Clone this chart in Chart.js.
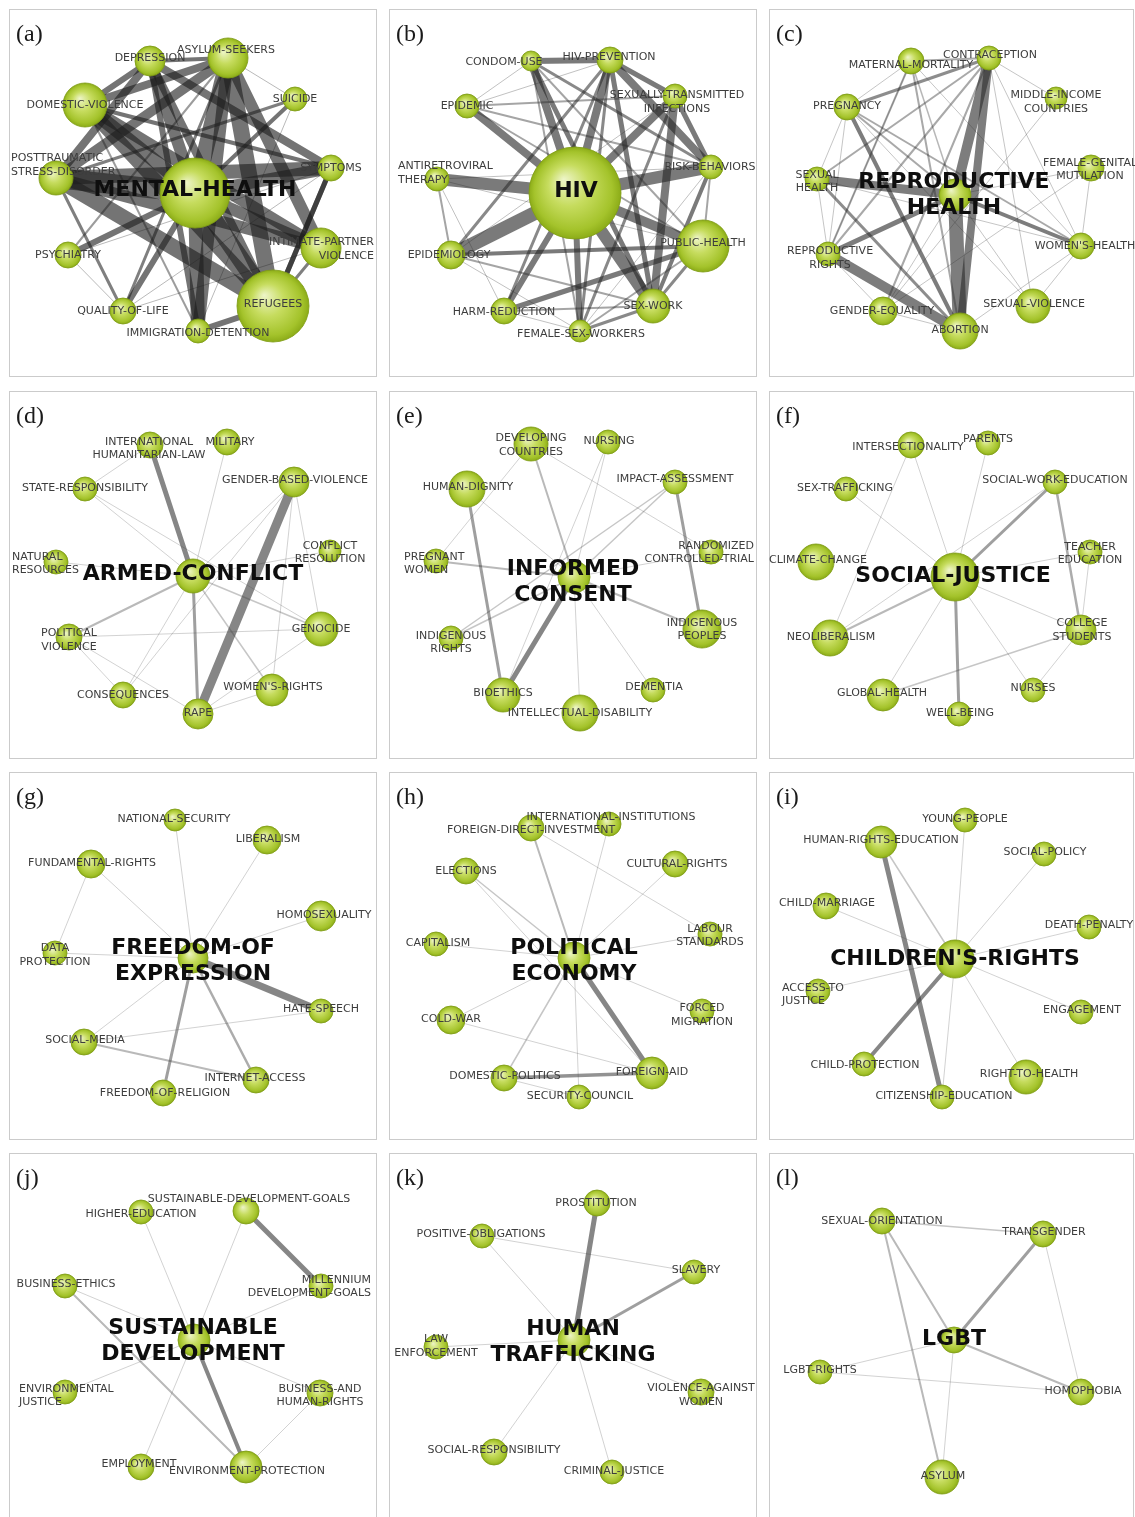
<!DOCTYPE html>
<html>
<head>
<meta charset="utf-8">
<script src="https://cdn.jsdelivr.net/npm/chart.js@4.4.1/dist/chart.umd.min.js"></script>
<style>
  html, body { margin: 0; padding: 0; background: #fff; }
  body { width: 1135px; height: 1517px; overflow: hidden; position: relative; }
  .panel { position: absolute; }
  .frame { position: absolute; left: 1px; top: 1px; box-sizing: border-box; border: 1px solid #cbcbcb; }
  .panel canvas { position: absolute; left: 0; top: 0; }
</style>
</head>
<body>
<script>
// ---- data: terms, layout coordinates (x, y), node weights, links [from, to, strength] ----
const A_TERMS = ['MENTAL-HEALTH', 'DEPRESSION', 'ASYLUM-SEEKERS', 'DOMESTIC-VIOLENCE', 'SUICIDE', 'POSTTRAUMATIC\nSTRESS-DISORDER', 'SYMPTOMS', 'INTIMATE-PARTNER\nVIOLENCE', 'PSYCHIATRY', 'QUALITY-OF-LIFE', 'IMMIGRATION-DETENTION', 'REFUGEES'];
const A_X = [187, 142, 220, 77, 287, 48, 323, 313, 60, 115, 190, 265];
const A_Y = [185, 53, 50, 97, 91, 170, 160, 240, 247, 303, 323, 298];
const A_SIZE = [35, 15, 20, 22, 12, 17, 13, 20, 13, 13, 12, 36];
const A_LINKS = [[0,11,18],[0,2,16],[0,5,20],[0,3,14],[0,1,12],[0,6,12],[0,7,12],[0,10,14],[0,9,6],[0,8,6],[0,4,4],
  [5,11,16],[5,6,14],[5,7,12],[3,7,12],[3,1,6],[3,2,8],[2,11,16],[2,10,12],[2,5,10],[1,2,4],[1,6,8],[1,11,8],[1,5,8],
  [1,10,6],[11,10,6],[11,6,5],[5,9,3],[8,9,1],[9,7,1],[4,5,3],[4,2,1],[2,7,12],[3,11,14],[3,6,4],[7,11,3],[6,11,5],
  [8,6,1],[9,2,3],[8,2,2],[9,6,1],[3,10,2],[4,10,1]];

const B_TERMS = ['HIV', 'CONDOM-USE', 'HIV-PREVENTION', 'EPIDEMIC', 'SEXUALLY-TRANSMITTED\nINFECTIONS', 'ANTIRETROVIRAL\nTHERAPY', 'RISK-BEHAVIORS', 'PUBLIC-HEALTH', 'EPIDEMIOLOGY', 'HARM-REDUCTION', 'SEX-WORK', 'FEMALE-SEX-WORKERS'];
const B_X = [187, 143, 222, 79, 287, 49, 323, 315, 63, 116, 265, 192];
const B_Y = [185, 53, 52, 98, 88, 171, 159, 238, 247, 303, 298, 323];
const B_SIZE = [46, 10, 13, 12, 12, 12, 12, 26, 14, 13, 17, 11];
const B_LINKS = [[0,5,12],[0,8,14],[0,7,10],[0,6,12],[0,10,12],[0,2,8],[0,1,8],[0,3,8],[0,4,8],[0,9,6],[0,11,6],
  [1,2,6],[1,10,5],[1,6,3],[2,4,5],[2,6,8],[2,10,5],[2,11,3],[2,8,3],[2,9,3],[4,10,8],[4,6,5],[4,3,2],[4,11,3],[3,7,2],
  [3,6,2],[8,7,4],[8,10,2],[9,7,5],[9,10,2],[10,7,3],[10,11,3],[6,10,4],[6,7,2],[5,8,2],[5,6,1],[5,7,1],[8,11,1],[9,11,1],
  [1,3,1],[1,11,2],[3,2,1],[4,8,1],[6,11,1],[7,11,2],[5,9,1],[1,7,2]];

const C_TERMS = ['REPRODUCTIVE\nHEALTH', 'MATERNAL-MORTALITY', 'CONTRACEPTION', 'PREGNANCY', 'MIDDLE-INCOME\nCOUNTRIES', 'SEXUAL\nHEALTH', 'FEMALE-GENITAL\nMUTILATION', "WOMEN'S-HEALTH", 'REPRODUCTIVE\nRIGHTS', 'GENDER-EQUALITY', 'SEXUAL-VIOLENCE', 'ABORTION'];
const C_X = [187, 143, 221, 79, 288, 49, 323, 313, 60, 115, 265, 192];
const C_Y = [187, 53, 50, 99, 90, 171, 160, 238, 246, 303, 298, 323];
const C_SIZE = [16, 13, 12, 13, 11, 12, 13, 13, 12, 14, 17, 18];
const C_LINKS = [[0,11,14],[0,2,10],[2,11,8],[5,0,9],[8,11,10],[3,11,4],[0,7,4],[0,8,5],[3,2,3],[1,2,2],[5,11,3],[5,2,2],
  [3,7,2],[8,2,2],[8,1,2],[9,6,1],[9,2,2],[1,11,2],[1,7,1],[3,0,2],[3,5,1],[3,8,1],[5,8,1],[1,0,1.5],[2,7,1],[2,4,1],
  [4,9,1],[0,10,1],[0,6,1],[7,11,1],[7,6,1],[7,10,1],[3,10,1],[5,7,1],[8,9,1],[9,11,1],[0,9,1],[1,8,1],[3,1,1],[2,10,1]];

const D_TERMS = ['ARMED-CONFLICT', 'INTERNATIONAL\nHUMANITARIAN-LAW', 'MILITARY', 'STATE-RESPONSIBILITY', 'GENDER-BASED-VIOLENCE', 'NATURAL\nRESOURCES', 'CONFLICT\nRESOLUTION', 'POLITICAL\nVIOLENCE', 'GENOCIDE', 'CONSEQUENCES', "WOMEN'S-RIGHTS", 'RAPE'];
const D_X = [185, 142, 219, 77, 286, 48, 322, 61, 313, 115, 264, 190];
const D_Y = [186, 55, 52, 99, 92, 172, 161, 247, 239, 305, 300, 324];
const D_SIZE = [17, 13, 13, 12, 15, 12, 11, 13, 17, 13, 16, 15];
const D_LINKS = [[4,11,9],[0,1,5],[0,11,3],[0,3,1],[0,2,1],[0,4,1],[0,5,1],[0,6,1],[0,7,2],[0,8,1.5],[0,9,1],[0,10,1.5],
  [3,8,1],[1,3,1],[7,8,1],[7,11,1],[7,9,1],[11,8,1],[11,10,1],[4,9,1],[4,8,1],[4,10,1]];

const E_TERMS = ['INFORMED\nCONSENT', 'DEVELOPING\nCOUNTRIES', 'NURSING', 'HUMAN-DIGNITY', 'IMPACT-ASSESSMENT', 'PREGNANT\nWOMEN', 'RANDOMIZED\nCONTROLLED-TRIAL', 'INDIGENOUS\nPEOPLES', 'INDIGENOUS\nRIGHTS', 'BIOETHICS', 'DEMENTIA', 'INTELLECTUAL-DISABILITY'];
const E_X = [186, 143, 220, 79, 287, 48, 323, 314, 63, 115, 265, 192];
const E_Y = [187, 54, 52, 99, 92, 171, 162, 239, 248, 305, 300, 323];
const E_SIZE = [16, 17, 12, 18, 12, 12, 12, 19, 12, 17, 12, 18];
const E_LINKS = [[0,9,5],[3,9,3],[4,7,3],[0,7,2],[0,5,2],[0,1,2],[0,4,1.5],[0,3,1],[0,2,1],[0,6,1],[0,10,1],[0,11,1],
  [0,8,1.5],[8,4,1.5],[1,6,1],[1,5,1],[2,9,1]];

const F_TERMS = ['SOCIAL-JUSTICE', 'INTERSECTIONALITY', 'PARENTS', 'SEX-TRAFFICKING', 'SOCIAL-WORK-EDUCATION', 'CLIMATE-CHANGE', 'TEACHER\nEDUCATION', 'NEOLIBERALISM', 'COLLEGE\nSTUDENTS', 'GLOBAL-HEALTH', 'NURSES', 'WELL-BEING'];
const F_X = [187, 143, 220, 78, 287, 48, 322, 62, 313, 115, 265, 191];
const F_Y = [187, 55, 53, 99, 92, 172, 162, 248, 240, 305, 300, 324];
const F_SIZE = [24, 13, 12, 12, 12, 18, 12, 18, 15, 16, 12, 12];
const F_LINKS = [[0,11,3],[0,4,3],[4,8,2.5],[0,7,2],[9,8,1.5],[0,1,1],[0,2,1],[0,3,1],[0,6,1],[0,8,1],[0,9,1],[0,10,1],
  [1,7,1],[6,8,1],[8,10,1],[4,7,1]];

const G_TERMS = ['FREEDOM-OF\nEXPRESSION', 'NATIONAL-SECURITY', 'LIBERALISM', 'FUNDAMENTAL-RIGHTS', 'HOMOSEXUALITY', 'DATA\nPROTECTION', 'HATE-SPEECH', 'SOCIAL-MEDIA', 'INTERNET-ACCESS', 'FREEDOM-OF-RELIGION'];
const G_X = [185, 167, 259, 83, 313, 47, 313, 76, 248, 155];
const G_Y = [187, 49, 69, 93, 145, 182, 240, 271, 309, 322];
const G_SIZE = [15, 11, 14, 14, 15, 12, 12, 13, 13, 13];
const G_LINKS = [[0,6,7],[0,9,3],[0,8,2.5],[7,8,2],[7,6,1],[0,7,1],[0,5,1],[0,3,1],[0,1,1],[0,2,1],[0,4,1],[3,5,1]];

const H_TERMS = ['POLITICAL\nECONOMY', 'FOREIGN-DIRECT-INVESTMENT', 'INTERNATIONAL-INSTITUTIONS', 'ELECTIONS', 'CULTURAL-RIGHTS', 'CAPITALISM', 'LABOUR\nSTANDARDS', 'COLD-WAR', 'FORCED\nMIGRATION', 'FOREIGN-AID', 'DOMESTIC-POLITICS', 'SECURITY-COUNCIL'];
const H_X = [186, 143, 221, 78, 287, 48, 322, 63, 314, 264, 116, 191];
const H_Y = [187, 57, 53, 100, 93, 173, 163, 249, 240, 302, 307, 326];
const H_SIZE = [16, 13, 12, 13, 13, 12, 12, 14, 12, 16, 13, 12];
const H_LINKS = [[0,9,5],[10,9,3.5],[0,1,2],[0,3,1.5],[0,10,1.5],[1,6,1],[3,9,1],[7,9,1],[10,11,1],[0,2,1],[0,4,1],
  [0,5,1],[0,6,1],[0,8,1],[0,7,1],[0,11,1]];

const I_TERMS = ["CHILDREN'S-RIGHTS", 'YOUNG-PEOPLE', 'HUMAN-RIGHTS-EDUCATION', 'SOCIAL-POLICY', 'CHILD-MARRIAGE', 'DEATH-PENALTY', 'ACCESS-TO\nJUSTICE', 'ENGAGEMENT', 'CHILD-PROTECTION', 'RIGHT-TO-HEALTH', 'CITIZENSHIP-EDUCATION'];
const I_X = [187, 197, 113, 276, 58, 321, 50, 313, 96, 258, 174];
const I_Y = [188, 49, 71, 83, 135, 156, 220, 241, 293, 306, 326];
const I_SIZE = [19, 12, 16, 12, 13, 12, 12, 12, 12, 17, 12];
const I_LINKS = [[2,10,5],[0,8,4],[2,0,1.5],[0,1,1],[0,3,1],[0,4,1],[0,5,1],[0,6,1],[0,7,1],[0,9,1],[0,10,1]];

const J_TERMS = ['SUSTAINABLE\nDEVELOPMENT', 'HIGHER-EDUCATION', 'SUSTAINABLE-DEVELOPMENT-GOALS', 'BUSINESS-ETHICS', 'MILLENNIUM\nDEVELOPMENT-GOALS', 'ENVIRONMENTAL\nJUSTICE', 'BUSINESS-AND\nHUMAN-RIGHTS', 'EMPLOYMENT', 'ENVIRONMENT-PROTECTION'];
const J_X = [186, 133, 238, 57, 313, 57, 312, 133, 238];
const J_Y = [188, 60, 59, 134, 134, 240, 241, 315, 315];
const J_SIZE = [16, 12, 13, 12, 12, 12, 13, 13, 16];
const J_LINKS = [[2,4,5],[0,8,4],[3,8,2],[0,1,1],[0,2,1],[0,3,1],[0,4,1],[0,5,1],[0,6,1],[0,7,1],[6,8,1]];

const K_TERMS = ['HUMAN\nTRAFFICKING', 'PROSTITUTION', 'POSITIVE-OBLIGATIONS', 'SLAVERY', 'LAW\nENFORCEMENT', 'VIOLENCE-AGAINST\nWOMEN', 'SOCIAL-RESPONSIBILITY', 'CRIMINAL-JUSTICE'];
const K_X = [186, 209, 94, 306, 48, 313, 106, 224];
const K_Y = [188, 51, 84, 120, 195, 240, 300, 320];
const K_SIZE = [16, 13, 12, 12, 12, 13, 13, 12];
const K_LINKS = [[0,1,5],[0,3,3],[2,3,1],[0,2,1],[0,4,1],[0,5,1],[0,6,1],[0,7,1]];

const L_TERMS = ['LGBT', 'SEXUAL-ORIENTATION', 'TRANSGENDER', 'LGBT-RIGHTS', 'HOMOPHOBIA', 'ASYLUM'];
const L_X = [186, 114, 275, 52, 313, 174];
const L_Y = [188, 69, 82, 220, 240, 325];
const L_SIZE = [13, 13, 13, 12, 13, 17];
const L_LINKS = [[0,2,3],[1,2,1.5],[1,0,2],[1,5,2],[0,4,2],[0,3,1],[3,4,1],[0,5,1],[2,4,1]];

// ---- label placement (styling): index -> [x, y, align] ----
const LABEL_AT = {
  a: {0:[187,182], 1:[142,50], 2:[218,42], 5:[3,157,'left'], 7:[366,241,'right'], 10:[190,325], 11:[265,296]},
  b: {0:[188,183], 1:[116,54], 2:[221,49], 4:[289,94], 5:[10,165,'left'], 6:[322,159], 7:[315,235], 8:[61,247], 9:[116,304], 11:[193,326]},
  c: {0:[186,187.5], 1:[143,57], 2:[222,47], 3:[79,98], 4:[288,94], 5:[49,173.5], 6:[322,161.5], 7:[317,238], 8:[62,250], 9:[114,303], 10:[266,296], 11:[192,322]},
  d: {0:[185,184], 1:[141,58.5], 2:[222,52], 3:[77,98], 4:[287,90], 5:[4,173.5,'left'], 6:[322,162.5], 7:[61,250], 9:[115,305], 10:[265,297], 11:[190,323]},
  e: {0:[185,192], 1:[143,55], 2:[221,51], 3:[80,97], 4:[287,89], 5:[16,173.5,'left'], 6:[366,162.5,'right'], 7:[314,239.5], 8:[63,252.5], 9:[115,303], 10:[266,297]},
  f: {0:[185,186], 1:[140,57], 2:[220,49], 3:[77,98], 4:[287,90], 5:[50,170], 6:[322,163.5], 7:[63,247], 8:[314,240], 9:[114,303], 10:[265,298], 11:[192,323]},
  g: {0:[185,190], 1:[166,48], 2:[260,68], 3:[84,92], 4:[316,144], 5:[47,184], 6:[313,238], 7:[77,269], 8:[247,307], 9:[157,322]},
  h: {0:[186,190.5], 1:[143,59], 2:[223,46], 4:[289,93], 5:[50,172], 6:[322,164.5], 7:[63,248], 8:[314,244], 9:[264,301], 10:[117,305], 11:[192,325]},
  i: {1:[197,48], 2:[113,69], 3:[277,81], 4:[59,132], 5:[321,154], 6:[14,223.5,'left'], 7:[314,239], 8:[97,294], 9:[261,303], 10:[176,325]},
  j: {0:[185,189.5], 1:[133,62], 2:[241,47], 3:[58,132], 4:[363,134.5,'right'], 5:[11,243.5,'left'], 6:[312,243.5], 7:[131,312], 8:[239,319]},
  k: {0:[185,190], 1:[208,51], 2:[93,82], 3:[308,118], 4:[48,194], 5:[313,243], 6:[106,298], 7:[226,319]},
  l: {0:[186,187], 2:[276,80], 3:[52,218], 4:[315,239], 5:[175,324]}
};

// darker link ink for the dense panels (styling)
const LINK_INK = { a: [30, 0.08], b: [40, 0.06], c: [45, 0.05] };

const PANELS = [
  {id:'a', terms:A_TERMS, x:A_X, y:A_Y, size:A_SIZE, links:A_LINKS},
  {id:'b', terms:B_TERMS, x:B_X, y:B_Y, size:B_SIZE, links:B_LINKS},
  {id:'c', terms:C_TERMS, x:C_X, y:C_Y, size:C_SIZE, links:C_LINKS},
  {id:'d', terms:D_TERMS, x:D_X, y:D_Y, size:D_SIZE, links:D_LINKS},
  {id:'e', terms:E_TERMS, x:E_X, y:E_Y, size:E_SIZE, links:E_LINKS},
  {id:'f', terms:F_TERMS, x:F_X, y:F_Y, size:F_SIZE, links:F_LINKS},
  {id:'g', terms:G_TERMS, x:G_X, y:G_Y, size:G_SIZE, links:G_LINKS},
  {id:'h', terms:H_TERMS, x:H_X, y:H_Y, size:H_SIZE, links:H_LINKS},
  {id:'i', terms:I_TERMS, x:I_X, y:I_Y, size:I_SIZE, links:I_LINKS},
  {id:'j', terms:J_TERMS, x:J_X, y:J_Y, size:J_SIZE, links:J_LINKS},
  {id:'k', terms:K_TERMS, x:K_X, y:K_Y, size:K_SIZE, links:K_LINKS},
  {id:'l', terms:L_TERMS, x:L_X, y:L_Y, size:L_SIZE, links:L_LINKS}
];

const COL_LEFT = [8, 388, 768];
const ROW_TOP = [8, 390, 771, 1152];

function edgeColor(w, id) {
  const ink = LINK_INK[id] || [60, 0];
  const a = Math.min(0.1 + 0.13 * w + ink[1], 0.62);
  const c = ink[0];
  return 'rgba(' + c + ',' + c + ',' + c + ',' + a.toFixed(3) + ')';
}

// green sphere look for the nodes
function nodeFill(ctx) {
  const chart = ctx.chart;
  const flat = '#b3cf3a';
  if (ctx.type !== 'data' || !chart.scales || !chart.scales.x || !chart.scales.y) return flat;
  const raw = ctx.raw;
  if (!raw) return flat;
  const cx = chart.scales.x.getPixelForValue(raw.x);
  const cy = chart.scales.y.getPixelForValue(raw.y);
  const r = raw.r;
  if (!isFinite(cx) || !isFinite(cy) || !isFinite(r) || r <= 0) return flat;
  const g = chart.ctx.createRadialGradient(cx - r * 0.25, cy - r * 0.3, 0, cx, cy, r);
  g.addColorStop(0, '#eef5c9');
  g.addColorStop(0.45, '#c6dc5e');
  g.addColorStop(0.85, '#a4c32b');
  g.addColorStop(1, '#8cac18');
  return g;
}

function makeLabelPlugin(p) {
  return {
    id: 'netLabels',
    afterDatasetsDraw(chart) {
      const ctx = chart.ctx;
      const sx = chart.scales.x, sy = chart.scales.y;
      const place = LABEL_AT[p.id] || {};
      ctx.save();
      ctx.textBaseline = 'middle';
      p.terms.forEach((term, k) => {
        const main = k === 0;
        const pos = place[k] || [p.x[k], p.y[k]];
        const align = pos[2] || 'center';
        const lines = term.split('\n');
        const lh = main ? 26 : 13.5;
        ctx.font = main ? 'bold 22px "DejaVu Sans"' : '11px "DejaVu Sans"';
        ctx.fillStyle = main ? '#0e0e0e' : '#3d3d3d';
        ctx.textAlign = align;
        const px = sx.getPixelForValue(pos[0]);
        const py0 = sy.getPixelForValue(pos[1]) - (lines.length - 1) * lh / 2;
        lines.forEach((ln, li) => ctx.fillText(ln, px, py0 + li * lh));
      });
      ctx.font = '24px "Liberation Serif"';
      ctx.fillStyle = '#1a1a1a';
      ctx.textAlign = 'left';
      ctx.textBaseline = 'alphabetic';
      ctx.fillText('(' + p.id + ')', 8, 33);
      ctx.restore();
    }
  };
}

function buildPanel(p, idx) {
  const col = idx % 3, row = Math.floor(idx / 3);
  const W = col === 2 ? 367 : 370;
  const H = 370;
  const box = document.createElement('div');
  box.className = 'panel';
  box.style.left = COL_LEFT[col] + 'px';
  box.style.top = ROW_TOP[row] + 'px';
  box.style.width = W + 'px';
  box.style.height = H + 'px';
  const frame = document.createElement('div');
  frame.className = 'frame';
  frame.style.width = (W - 2) + 'px';
  frame.style.height = (H - 2) + 'px';
  box.appendChild(frame);
  const canvas = document.createElement('canvas');
  canvas.width = W;
  canvas.height = H;
  canvas.style.width = W + 'px';
  canvas.style.height = H + 'px';
  box.appendChild(canvas);
  document.body.appendChild(box);

  const datasets = p.links.map(([i, j, w]) => ({
    type: 'line',
    data: [{x: p.x[i], y: p.y[i]}, {x: p.x[j], y: p.y[j]}],
    borderColor: edgeColor(w, p.id),
    borderWidth: w,
    borderCapStyle: 'round',
    pointRadius: 0,
    pointHoverRadius: 0,
    fill: false,
    tension: 0,
    clip: false,
    order: 2
  }));
  datasets.push({
    type: 'bubble',
    data: p.terms.map((t, k) => ({x: p.x[k], y: p.y[k], r: p.size[k]})),
    backgroundColor: nodeFill,
    borderColor: 'rgba(128,158,22,0.85)',
    borderWidth: 1,
    clip: false,
    order: 1
  });

  new Chart(canvas, {
    type: 'bubble',
    data: { datasets },
    options: {
      responsive: false,
      animation: false,
      events: [],
      layout: { padding: 0, autoPadding: false },
      plugins: { legend: { display: false }, tooltip: { enabled: false } },
      scales: {
        x: { type: 'linear', min: 0, max: W, display: false },
        y: { type: 'linear', min: 0, max: H, reverse: true, display: false }
      }
    },
    plugins: [makeLabelPlugin(p)]
  });
}

PANELS.forEach(buildPanel);
</script>
</body>
</html>
